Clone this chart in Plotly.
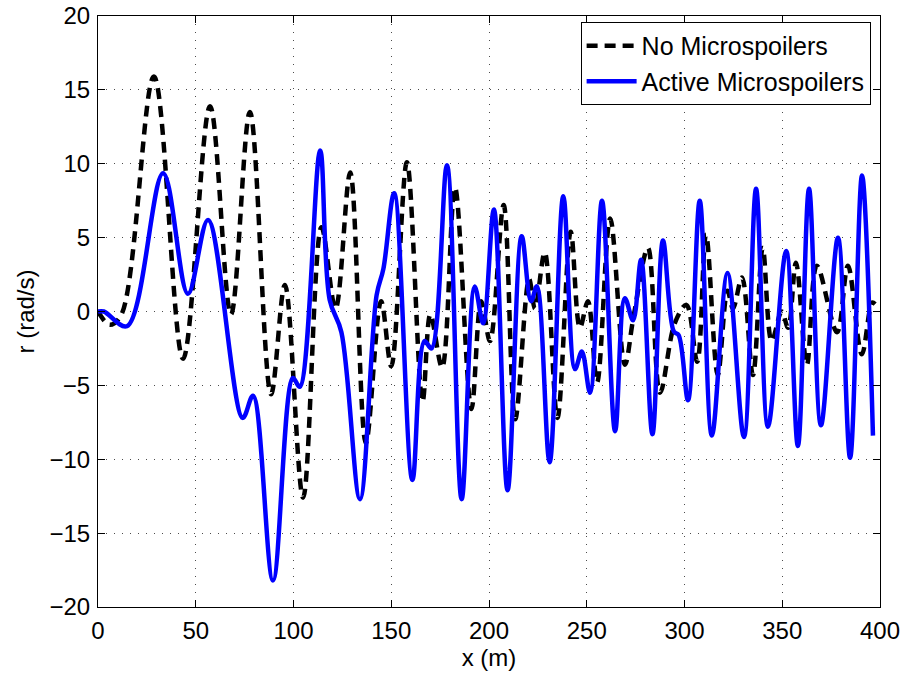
import plotly.graph_objects as go

# No Microspoilers (black dashed) - key points
x_nm = [0, 6, 12, 28.6, 43.5, 57.3, 68, 77.7, 88.5, 95.6, 104.9, 114.3, 121.5, 129, 137,
        144.8, 150, 158, 166, 170, 176, 182.6, 191, 196, 200.5, 207.5, 213.4, 220.5, 223.5,
        228.5, 235, 241.8, 246.5, 250.6, 255.3, 262, 269.5, 274, 281.3, 287.5, 295, 301,
        306.5, 311, 317, 322, 324.8, 329.4, 335, 340, 344.6, 349.7, 353, 357, 362.6, 367.7,
        378, 383.6, 390.7, 396, 397.5]
y_nm = [0, -0.9, -0.2, 15.9, -3.2, 13.9, -0.2, 13.5, -5.6, 1.8, -12.6, 5.7, 0.2, 9.4, -8.9,
        0.7, -3.7, 10.1, -6.1, -0.2, -3.8, 8.4, -6.6, 0.7, -2.0, 7.2, -7.3, 2.2, 0.2,
        4.0, -7.2, 5.4, -1.1, 0.7, -4.8, 6.3, -3.6, -0.3, 4.3, -5.5, -0.8, 0.45,
        -3.4, 5.2, -4.3, 1.4, 0.2, 2.3, -4.3, 4.3, -2.0, 0.0, -1.1, 3.3, -3.6, 3.1,
        -1.4, 3.1, -2.9, 0.6, 0.5]

# Active Microspoilers (blue solid)
x_am = [0, 3, 14.8, 33.3, 46, 56.3, 74, 79.3, 89.5, 99.7, 103.2, 113.6, 118.5, 124.5, 134,
        142.5, 146, 151.5, 160.8, 167, 170.6, 178.5, 186, 192.7, 197, 202.5, 209.5, 216.7,
        221.5, 224.5, 231, 238, 244, 247.5, 251.7, 257.8, 264.5, 269.5, 273.7, 277.8, 283.6,
        289, 294.5, 297, 301.8, 307.8, 314, 322, 330.4, 336.6, 342.7, 352, 358, 363.7,
        369.8, 378.5, 384.7, 390.8, 396.4]
y_am = [0, 0, -1.0, 9.35, 1.2, 6.2, -7.2, -5.7, -18.2, -4.5, -5.1, 10.9, 0.8, -1.4, -12.7,
        1.1, 2.9, 8.0, -11.4, -2.0, -2.5, 9.9, -12.7, 1.7, -0.8, 6.9, -12.1, 5.1,
        0.7, 1.7, -10.2, 7.8, -3.9, -2.7, -5.5, 7.5, -8.1, 0.9, -0.6, 3.5, -8.3,
        4.8, -1.35, -1.6, -6.0, 7.5, -8.4, 2.6, -8.5, 8.3, -7.8, 4.1, -9.1, 8.3,
        -7.7, 5.0, -9.9, 9.2, -8.4]

x_ticks = [0, 50, 100, 150, 200, 250, 300, 350, 400]
y_ticks = [-20, -15, -10, -5, 0, 5, 10, 15, 20]

FONT = "Liberation Sans, Arial, sans-serif"
FS = 24

fig = go.Figure()
fig.add_trace(go.Scatter(
    x=x_nm, y=y_nm, mode="lines", name="No Microspoilers",
    line=dict(color="black", width=4.5, dash="11px,7px", shape="spline", smoothing=1.0)))
fig.add_trace(go.Scatter(
    x=x_am, y=y_am, mode="lines", name="Active Microspoilers",
    line=dict(color="#0000ff", width=4.5, shape="spline", smoothing=1.0)))

axis_common = dict(
    showline=True, linecolor="black", linewidth=1, mirror="allticks",
    ticks="inside", ticklen=7, tickcolor="black",
    showgrid=True, gridcolor="rgba(0,0,0,0.7)", gridwidth=1, griddash="1px,7px",
    zeroline=False, automargin=False,
    tickfont=dict(family=FONT, size=FS, color="black"),
)

fig.update_xaxes(range=[0, 400], tickvals=x_ticks, ticklabelstandoff=2,
                 title=dict(text="x (m)", font=dict(family=FONT, size=FS, color="black"), standoff=0),
                 **axis_common)
fig.update_yaxes(range=[-20, 20], tickvals=y_ticks, ticklabelstandoff=2,
                 title=dict(text="r (rad/s)", font=dict(family=FONT, size=FS, color="black"), standoff=8),
                 **axis_common)

fig.update_layout(
    width=908, height=674,
    margin=dict(l=98, r=28, t=16, b=67),
    paper_bgcolor="white", plot_bgcolor="white",
    font=dict(family=FONT, size=FS, color="black"),
    showlegend=True,
    legend=dict(x=0.988, y=0.99, xanchor="right", yanchor="top",
                bgcolor="white", bordercolor="black", borderwidth=1,
                font=dict(family=FONT, size=25, color="black"),
                itemwidth=50, tracegroupgap=0),
)

fig.write_html("out.html", config={"displayModeBar": False},
               post_script="document.body.style.margin='0';document.body.style.padding='0';")
